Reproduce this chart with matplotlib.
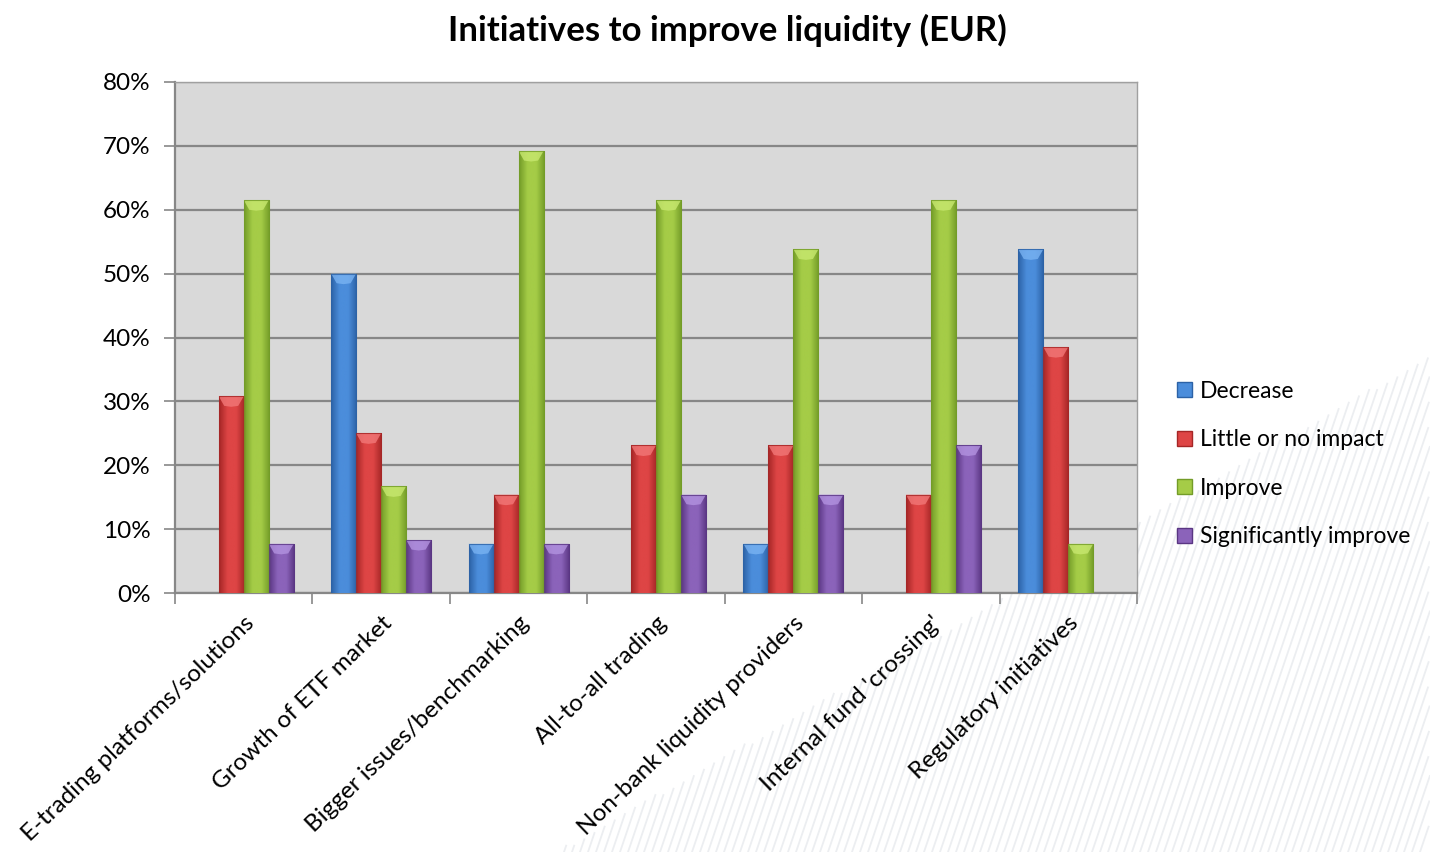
import numpy as np
import matplotlib
matplotlib.use("Agg")
import matplotlib.pyplot as plt
from matplotlib.patches import Polygon
from matplotlib.lines import Line2D
from matplotlib.colors import LinearSegmentedColormap

# ---------------- data ----------------
categories = ["E-trading platforms/solutions", "Growth of ETF market",
              "Bigger issues/benchmarking", "All-to-all trading",
              "Non-bank liquidity providers", "Internal fund 'crossing'",
              "Regulatory initiatives"]
series_names = ["Decrease", "Little or no impact", "Improve", "Significantly improve"]
decrease = [0.0, 50.0, 7.7, 0.0, 7.7, 0.0, 53.8]
little = [30.8, 25.0, 15.4, 23.1, 23.1, 15.4, 38.5]
improve = [61.5, 16.7, 69.2, 61.5, 53.8, 61.5, 7.7]
significant = [7.7, 8.3, 7.7, 15.4, 15.4, 23.1, 0.0]
yticks = [0, 10, 20, 30, 40, 50, 60, 70, 80]
title = "Initiatives to improve liquidity (EUR)"

series = [decrease, little, improve, significant]
edge_cols = ["#2c62a6", "#a52626", "#739c28", "#5a3683"]
mid_cols = ["#4b8ddb", "#de4545", "#a5cc47", "#8b63ba"]
top_cols = ["#79b3f2", "#f27878", "#c8e870", "#b393e0"]

plt.rcParams['font.family'] = ['Lato', 'DejaVu Sans']

W, H = 1430, 852
fig = plt.figure(figsize=(W / 100, H / 100), dpi=100)
fig.patch.set_facecolor("white")

# decorative watermark (diagonal faint lines in lower-right)
def fx(px):
    return px / W
def fy(py):
    return 1 - py / H
x0b, y0b, x1b, y1b = 555, 852, 1430, 355
def side(xp, yp):
    return (x1b - x0b) * (yp - y0b) - (y1b - y0b) * (xp - x0b)
ts = np.linspace(0, 1, 80)
for xs in range(300, 1700, 8):
    xa, ya = xs, 852
    xb, yb = xs + 170, 852 - 500
    pts = [(xa + (xb - xa) * t, ya + (yb - ya) * t) for t in ts]
    keep = [(px, py) for px, py in pts if side(px, py) >= 0 and px <= 1430]
    if len(keep) > 1:
        fig.add_artist(Line2D([fx(p[0]) for p in keep], [fy(p[1]) for p in keep],
                              color="#eceef1", lw=1.3, zorder=0))

ax = fig.add_axes([175 / W, 1 - 593 / H, (1137 - 175) / W, (593 - 82) / H])
ax.set_facecolor("#d9d9d9")
ax.set_zorder(2)

n = len(categories)
x = np.arange(n)
bw = 0.182
offs = (np.arange(4) - 1.5) * bw

ax.set_xlim(-0.5, n - 0.5)
ax.set_ylim(0, 80)

for si, vals in enumerate(series):
    bars = ax.bar(x + offs[si], vals, width=bw, color=mid_cols[si],
                  edgecolor="none", zorder=3, label=series_names[si])
    cmap = LinearSegmentedColormap.from_list(
        "g%d" % si, [edge_cols[si], mid_cols[si], mid_cols[si], edge_cols[si]])
    grad = np.linspace(0, 1, 64).reshape(1, -1)
    for b, v in zip(bars, vals):
        if v <= 0:
            continue
        bx0 = b.get_x()
        bx1 = bx0 + b.get_width()
        im = ax.imshow(grad, cmap=cmap, extent=(bx0, bx1, 0, v), aspect="auto",
                       zorder=3.5, interpolation="bicubic")
        im.set_clip_path(b)
        bev = 1.5
        tri = Polygon([(bx0, v), (bx1, v), (bx1 - bw * 0.22, v - bev),
                       (bx0 + bw * 0.5, v - bev * 1.1), (bx0 + bw * 0.22, v - bev)],
                      closed=True, facecolor=top_cols[si], edgecolor="none",
                      zorder=4, alpha=0.8)
        ax.add_patch(tri)
        ax.plot([bx0, bx0, bx1, bx1], [0, v, v, 0], color=edge_cols[si],
                lw=0.8, zorder=4.2, alpha=0.8)

ax.set_yticks(yticks)
ax.set_yticklabels(["%d%%" % t for t in yticks], fontsize=17.5)
ax.yaxis.grid(True, color="#878787", lw=1.6, zorder=1)
ax.set_axisbelow(True)
ax.tick_params(axis="y", length=8, width=1.2, color="#878787", pad=9.5)

ax.set_xticks(x)
ax.set_xticklabels(categories, rotation=44, ha="right", va="top",
                   rotation_mode="anchor", fontsize=17.5)
ax.set_xticks(np.arange(n + 1) - 0.5, minor=True)
ax.tick_params(axis="x", which="major", length=0, pad=14)
ax.tick_params(axis="x", which="minor", length=8, width=1.2, color="#878787")

for s in ["left", "bottom"]:
    ax.spines[s].set_color("#878787")
    ax.spines[s].set_linewidth(1.6)
for s in ["top", "right"]:
    ax.spines[s].set_color("#a0a0a0")
    ax.spines[s].set_linewidth(1.0)

fig.text(727 / W, 1 - 30 / H, title, ha="center", va="center",
         fontsize=25, fontweight="bold")

handles = [plt.Rectangle((0, 0), 1, 1, facecolor=mid_cols[i], edgecolor=edge_cols[i])
           for i in range(4)]
leg = fig.legend(handles, series_names, loc="center left",
                 bbox_to_anchor=(1177 / W, 1 - 464 / H), frameon=False,
                 fontsize=16.5, handlelength=0.65, handleheight=0.65,
                 handletextpad=0.35, labelspacing=1.2,
                 borderpad=0, borderaxespad=0)

fig.savefig("out.png", dpi=100, facecolor="white")
